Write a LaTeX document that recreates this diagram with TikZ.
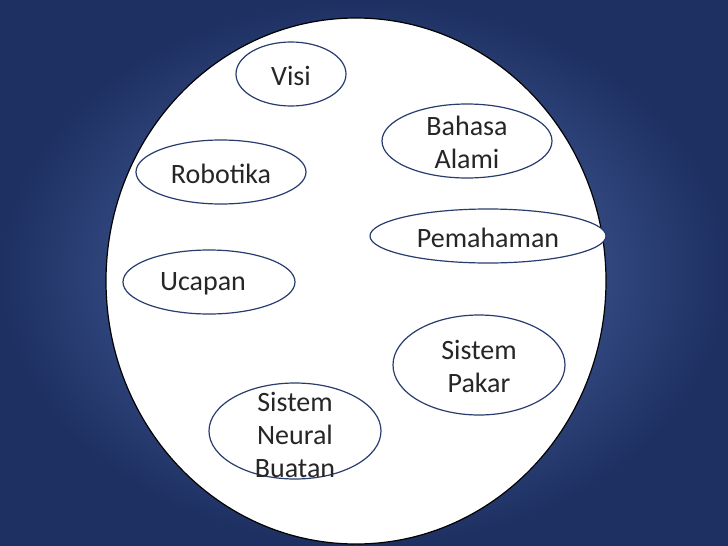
\documentclass[tikz,border=0pt]{standalone}
\usepackage{fontspec}
\usetikzlibrary{shapes.geometric}
\setmainfont{Carlito}
\begin{document}
\begin{tikzpicture}[x=1pt,y=-1pt,
  oval/.style={draw={rgb,255:red,40;green,60;blue,110},line width=1.2pt,fill=white},
  lbl/.style={align=center,font=\fontsize{28}{33}\selectfont,text=black!85}]
\useasboundingbox (0,0) rectangle (728,546);
\fill[inner color={rgb,255:red,85;green,115;blue,180},outer color={rgb,255:red,30;green,48;blue,98}] (0,0) rectangle (728,546);
\node[draw=black,line width=1.2pt,fill=white,ellipse,minimum width=500,minimum height=526,inner sep=0] (big) at (356,281) {};
\draw[oval] (291,74) ellipse [x radius=55,y radius=32];
\node[lbl] (visi) at (291,76) {Visi};
\draw[oval] (467,141) ellipse [x radius=85,y radius=37];
\node[lbl] (ba) at (467,142) {Bahasa\\Alami};
\draw[oval] (221,172) ellipse [x radius=85,y radius=32];
\node[lbl] (rob) at (221,174) {Robotika};
\draw[oval] (488,236) ellipse [x radius=118,y radius=27];
\node[lbl] (pem) at (488,238) {Pemahaman};
\draw[oval] (209,282) ellipse [x radius=86,y radius=32];
\node[lbl] (uca) at (203,284) {Ucapan};
\draw[oval] (479,365) ellipse [x radius=86,y radius=50];
\node[lbl] (sp) at (479,366) {Sistem\\Pakar};
\draw[oval] (295,431) ellipse [x radius=86,y radius=48];
\node[lbl] (snb) at (295,435) {Sistem\\Neural\\Buatan};
\end{tikzpicture}
\end{document}
